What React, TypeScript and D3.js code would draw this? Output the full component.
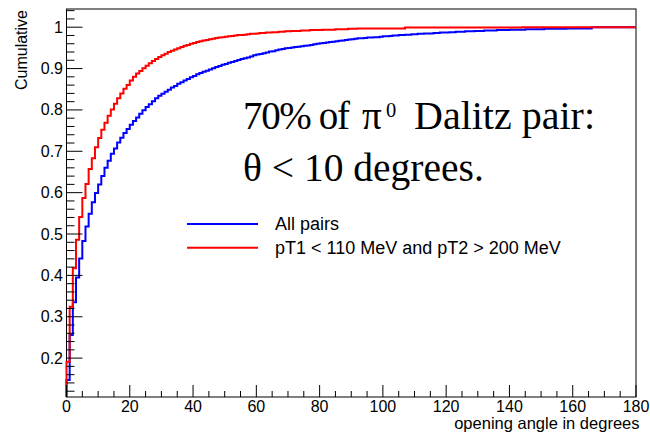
import React from "react";
import * as d3 from "d3";

// Cumulative fraction per 1-degree bin (0..179)
const allPairs: number[] = [
  0.147, 0.256, 0.335, 0.395, 0.441, 0.483, 0.518, 0.549, 0.577, 0.599,
  0.620, 0.640, 0.660, 0.677, 0.694, 0.707, 0.721, 0.733, 0.744, 0.754,
  0.764, 0.773, 0.782, 0.791, 0.799, 0.807, 0.814, 0.821, 0.828, 0.834,
  0.839, 0.844, 0.849, 0.854, 0.858, 0.863, 0.867, 0.871, 0.875, 0.879,
  0.882, 0.886, 0.889, 0.892, 0.895, 0.898, 0.901, 0.904, 0.906, 0.909,
  0.911, 0.914, 0.916, 0.918, 0.921, 0.923, 0.925, 0.927, 0.929, 0.932,
  0.934, 0.935, 0.937, 0.939, 0.941, 0.942, 0.944, 0.946, 0.947, 0.949,
  0.950, 0.951, 0.952, 0.953, 0.954, 0.955, 0.956, 0.957, 0.959, 0.960,
  0.961, 0.962, 0.963, 0.964, 0.965, 0.966, 0.967, 0.968, 0.969, 0.970,
  0.971, 0.972, 0.973, 0.973, 0.974, 0.975, 0.975, 0.976, 0.976, 0.977,
  0.978, 0.978, 0.979, 0.980, 0.980, 0.981, 0.981, 0.982, 0.982, 0.983,
  0.983, 0.984, 0.984, 0.985, 0.985, 0.985, 0.986, 0.986, 0.987, 0.987,
  0.987, 0.988, 0.988, 0.989, 0.989, 0.989, 0.990, 0.990, 0.990, 0.991,
  0.991, 0.991, 0.992, 0.992, 0.992, 0.992, 0.993, 0.993, 0.993, 0.993,
  0.994, 0.994, 0.994, 0.994, 0.994, 0.995, 0.995, 0.995, 0.995, 0.995,
  0.995, 0.996, 0.996, 0.996, 0.996, 0.996, 0.996, 0.996, 0.997, 0.997,
  0.997, 0.997, 0.997, 0.997, 0.997, 0.997, 1.000, 1.000, 1.000, 1.000,
  1.000, 1.000, 1.000, 1.000, 1.000, 1.000, 1.000, 1.000, 1.000, 1.000,
];

const ptCut: number[] = [
  0.191, 0.324, 0.417, 0.486, 0.541, 0.587, 0.621, 0.657, 0.683, 0.710,
  0.732, 0.752, 0.769, 0.786, 0.801, 0.815, 0.828, 0.840, 0.851, 0.860,
  0.871, 0.880, 0.888, 0.894, 0.901, 0.907, 0.913, 0.918, 0.923, 0.928,
  0.932, 0.936, 0.940, 0.943, 0.946, 0.949, 0.952, 0.955, 0.957, 0.960,
  0.962, 0.964, 0.966, 0.968, 0.969, 0.971, 0.972, 0.974, 0.975, 0.976,
  0.977, 0.978, 0.979, 0.980, 0.981, 0.981, 0.982, 0.983, 0.984, 0.984,
  0.985, 0.986, 0.986, 0.987, 0.987, 0.988, 0.988, 0.989, 0.989, 0.990,
  0.990, 0.991, 0.991, 0.991, 0.992, 0.992, 0.992, 0.993, 0.993, 0.993,
  0.993, 0.994, 0.994, 0.994, 0.994, 0.995, 0.995, 0.995, 0.995, 0.996,
  0.996, 0.996, 0.997, 0.997, 0.997, 0.997, 0.997, 0.997, 0.997, 0.997,
  0.997, 0.997, 0.997, 0.997, 0.997, 0.997, 0.997, 0.999, 0.999, 0.999,
  0.999, 0.999, 0.999, 0.999, 0.999, 0.999, 0.999, 0.999, 0.999, 0.999,
  0.999, 0.999, 0.999, 0.999, 0.999, 0.999, 0.999, 0.999, 0.999, 0.999,
  0.999, 0.999, 0.999, 0.999, 0.999, 0.999, 0.999, 0.999, 0.999, 0.999,
  0.999, 0.999, 0.999, 0.999, 1.000, 1.000, 1.000, 1.000, 1.000, 1.000,
  1.000, 1.000, 1.000, 1.000, 1.000, 1.000, 1.000, 1.000, 1.000, 1.000,
  1.000, 1.000, 1.000, 1.000, 1.000, 1.000, 1.000, 1.000, 1.000, 1.000,
  1.000, 1.000, 1.000, 1.000, 1.000, 1.000, 1.000, 1.000, 1.000, 1.000,
];

const xMajorTicks: number[] = [0, 20, 40, 60, 80, 100, 120, 140, 160, 180];
const yMajorTicks: number[] = [0.2, 0.3, 0.4, 0.5, 0.6, 0.7, 0.8, 0.9, 1];
const yTickLabels: string[] = ["0.2", "0.3", "0.4", "0.5", "0.6", "0.7", "0.8", "0.9", "1"];
const seriesNames: string[] = ["All pairs", "pT1 < 110 MeV and pT2 > 200 MeV"];
const seriesColors: string[] = ["#0000ff", "#ff0000"];

const W = 650;
const H = 433;
const L = 66.5;
const R = 636;
const T = 9;
const B = 397;

export default function App() {
  const x = d3.scaleLinear().domain([0, 180]).range([L, R]);
  const y = d3.scaleLinear().domain([0.106, 1.044]).range([B, T]);

  const stepPath = (vals: number[]) => {
    const pts: [number, number][] = [[0, y.domain()[0]]];
    vals.forEach((v, i) => pts.push([i, v]));
    pts.push([vals.length, vals[vals.length - 1]]);
    return d3
      .line<[number, number]>()
      .x((d) => x(d[0]))
      .y((d) => y(d[1]))
      .curve(d3.curveStepAfter)(pts) as string;
  };

  const xMinor = d3.range(0, 181, 5).filter((v) => v % 20 !== 0);
  const yMinor = d3
    .range(6, 53)
    .map((k) => k * 0.02)
    .filter((v) => v > 0.106 && v < 1.044 && Math.abs(v * 10 - Math.round(v * 10)) > 1e-6);

  const sans = "'Liberation Sans', Arial, sans-serif";
  const serif = "'Liberation Serif', 'Times New Roman', serif";

  return (
    <svg width={W} height={H} style={{ position: "absolute", left: 0, top: 0, background: "#fff" }}>
      <rect x={0} y={0} width={W} height={H} fill="#fff" />
      {/* frame */}
      <rect x={L} y={T} width={R - L} height={B - T} fill="none" stroke="#000" strokeWidth={1} />

      {/* curves */}
      <path d={stepPath(allPairs)} fill="none" stroke={seriesColors[0]} strokeWidth={2} />
      <path d={stepPath(ptCut)} fill="none" stroke={seriesColors[1]} strokeWidth={2} />

      {/* x axis ticks */}
      {xMajorTicks.map((t) => (
        <g key={"xm" + t}>
          <line x1={x(t)} x2={x(t)} y1={B} y2={B - 12} stroke="#000" strokeWidth={1} />
          <text x={x(t)} y={412} textAnchor="middle" fontFamily={sans} fontSize={16} fill="#000">
            {t}
          </text>
        </g>
      ))}
      {xMinor.map((t) => (
        <line key={"xn" + t} x1={x(t)} x2={x(t)} y1={B} y2={B - 6} stroke="#000" strokeWidth={1} />
      ))}

      {/* y axis ticks */}
      {yMajorTicks.map((t, i) => (
        <g key={"ym" + t}>
          <line x1={L} x2={L + 16} y1={y(t)} y2={y(t)} stroke="#000" strokeWidth={1} />
          <text x={63} y={y(t) + 5.5} textAnchor="end" fontFamily={sans} fontSize={16} fill="#000">
            {yTickLabels[i]}
          </text>
        </g>
      ))}
      {yMinor.map((t) => (
        <line key={"yn" + t} x1={L} x2={L + 8} y1={y(t)} y2={y(t)} stroke="#000" strokeWidth={1} />
      ))}

      {/* axis titles */}
      <text x={639.5} y={429} textAnchor="end" fontFamily={sans} fontSize={16.5} fill="#000">
        opening angle in degrees
      </text>
      <text
        transform={`translate(26.5, ${T + 1}) rotate(-90)`}
        textAnchor="end"
        fontFamily={sans}
        fontSize={16}
        fill="#000"
      >
        Cumulative
      </text>

      {/* legend */}
      {seriesNames.map((name, i) => (
        <g key={name}>
          <line x1={187} x2={258} y1={224 + i * 23.7} y2={224 + i * 23.7} stroke={seriesColors[i]} strokeWidth={2} />
          <text x={275} y={229.8 + i * 23.7} fontFamily={sans} fontSize={18} fill="#000">
            {name}
          </text>
        </g>
      ))}

      {/* annotation */}
      <text y={129.3} fontFamily={serif} fontSize={39} fill="#000">
        <tspan x={243} textLength={107} lengthAdjust="spacing">70% of</tspan>
        <tspan x={362}>π</tspan>
        <tspan x={386} y={116.8} fontSize={20.5}>0</tspan>
        <tspan x={414} y={129.3} fontSize={40}>Dalitz pair:</tspan>
      </text>
      <text x={243} y={180.5} fontFamily={serif} fontSize={39.5} fill="#000">
        θ &lt; 10 degrees.
      </text>
    </svg>
  );
}
